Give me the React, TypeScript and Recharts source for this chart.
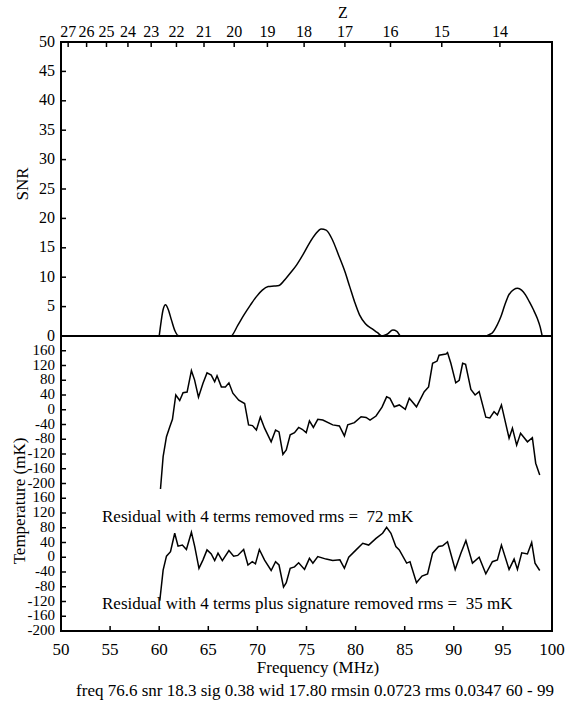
import React from "react";
import { LineChart, Line, XAxis, YAxis, ReferenceArea } from "recharts";

// SNR curve (top panel)
const snrFreq = [60.0, 60.2, 60.4, 60.65, 60.9, 61.25, 61.6, 61.9, 62.2, 67.3, 68.0, 68.6, 69.3, 69.9, 70.5, 71.1, 71.7, 72.2, 72.9, 73.5, 74.0, 74.7, 75.3, 75.9, 76.5, 77.0, 77.6, 78.3, 78.9, 79.4, 79.9, 80.4, 81.0, 81.7, 82.2, 82.7, 83.2, 83.8, 84.2, 84.6, 93.0, 93.9, 94.4, 94.8, 95.2, 95.6, 96.1, 96.5, 96.9, 97.3, 97.7, 98.1, 98.5, 98.8, 99.0];
const snrValue = [0, 2.5, 4.5, 5.3, 4.6, 2.7, 0.9, 0.1, 0, 0, 1.8, 3.5, 5.3, 6.7, 7.8, 8.4, 8.5, 8.6, 9.8, 11.0, 12.1, 14.0, 15.8, 17.3, 18.2, 18.0, 16.5, 13.6, 11.0, 8.4, 5.8, 3.6, 2.1, 1.2, 0.6, 0, 0.3, 1.0, 0.8, 0, 0, 0.5, 1.8, 3.3, 5.3, 7.0, 7.9, 8.1, 7.8, 7.0, 5.8, 4.5, 3.0, 1.5, 0];

// residual with 4 terms removed (mK)
const res4Freq = [60.13, 60.4, 60.74, 61.08, 61.35, 61.69, 62.09, 62.43, 62.84, 63.28, 63.6, 64.0, 64.46, 64.87, 65.3, 65.65, 65.89, 66.33, 66.74, 67.1, 67.5, 68.1, 68.7, 69.1, 69.5, 69.9, 70.3, 70.73, 71.4, 71.85, 72.2, 72.6, 72.94, 73.34, 73.78, 74.2, 74.56, 74.97, 75.3, 75.7, 76.15, 76.66, 77.67, 78.35, 78.86, 79.2, 79.88, 80.56, 81.07, 81.47, 82.08, 82.69, 83.16, 83.5, 83.94, 84.45, 85.06, 85.47, 86.2, 86.99, 87.43, 87.84, 88.3, 88.5, 89.2, 89.36, 89.7, 90.2, 90.55, 90.9, 91.2, 91.74, 92.17, 92.58, 93.26, 93.67, 94.1, 94.44, 94.85, 95.63, 95.97, 96.4, 96.8, 97.5, 98.0, 98.34, 98.75];
const res4Mk = [-215, -127, -73, -46, -26, 40, 25, 46, 48, 106, 81, 34, 72, 100, 94, 76, 92, 62, 62, 73, 45, 26, 17, -41, -43, -55, -20, -50, -87, -55, -60, -121, -109, -68, -62, -48, -53, -62, -30, -48, -26, -28, -41, -44, -71, -41, -35, -19, -21, -28, -17, 7, 35, 31, 8, 13, 1, 31, 8, 49, 62, 126, 132, 148, 151, 155, 126, 73, 80, 126, 123, 55, 40, 49, -20, -22, -5, -14, 13, -77, -50, -96, -64, -87, -76, -145, -177];

// residual with 4 terms plus signature removed (mK)
const resSigFreq = [60.06, 60.4, 60.74, 61.15, 61.58, 61.92, 62.36, 62.77, 63.28, 63.62, 64.05, 64.46, 64.87, 65.3, 65.65, 65.99, 66.43, 67.1, 67.58, 68.0, 68.6, 69.04, 69.48, 69.8, 70.2, 70.73, 71.4, 71.85, 72.2, 72.66, 72.94, 73.34, 73.78, 74.2, 74.8, 75.3, 75.65, 76.15, 77.0, 77.67, 78.4, 78.86, 79.3, 80.05, 80.73, 81.33, 82.08, 82.75, 83.16, 83.6, 84.1, 84.45, 85.2, 85.54, 86.2, 86.76, 87.33, 87.84, 88.45, 88.86, 89.36, 90.14, 90.72, 91.23, 91.9, 92.58, 93.26, 93.93, 94.44, 94.85, 95.63, 96.14, 96.48, 96.92, 97.5, 97.93, 98.27, 98.75];
const resSigMk = [-118, -35, 3, 15, 65, 30, 33, 21, 68, 29, -30, -7, 20, 9, -9, 11, -9, 18, 3, 5, 21, -21, -12, -18, 21, -8, -36, -12, -21, -81, -69, -30, -26, -15, -33, -3, -16, 2, -5, -9, -7, -30, 0, 20, 38, 33, 51, 65, 81, 65, 29, 20, -16, -12, -69, -51, -45, 11, 29, 31, 42, -33, 11, 45, -16, 0, -45, -12, -7, 33, -33, -5, -33, 12, 9, 40, -16, -36];

const snrTicks = [0, 5, 10, 15, 20, 25, 30, 35, 40, 45, 50];
const freqTicks = [50, 55, 60, 65, 70, 75, 80, 85, 90, 95, 100];
const zLabels = [27, 26, 25, 24, 23, 22, 21, 20, 19, 18, 17, 16, 15, 14];
// stacked temperature axis: lower block is the true value, upper block is shifted by OFFSET
const tempTicks = [-200, -160, -120, -80, -40, 0, 40, 80, 120, 160, 200, 240, 280, 320, 360, 400, 440, 480, 520, 560];
const OFFSET = 400;

const HI_MHZ = 1420.4;
const zTickFreqs = zLabels.map((z) => HI_MHZ / (1 + z));

const snrData = snrFreq.map((f, i) => ({ f, v: snrValue[i] }));
const res4Data = res4Freq.map((f, i) => ({ f, v: res4Mk[i] + OFFSET }));
const resSigData = resSigFreq.map((f, i) => ({ f, v: resSigMk[i] }));

const FONT = "Liberation Serif, Times New Roman, DejaVu Serif, serif";
const txt = { fontFamily: FONT };
const M = 6;

const LeftTick = (props: any) => {
  const { x, y, payload, fs, fmt } = props;
  const label = fmt ? fmt(payload.value) : payload.value;
  return (
    <g>
      <line x1={x + M} x2={x + M + 5} y1={y} y2={y} stroke="#000" strokeWidth={1.5} />
      <text x={x} y={y - 1} textAnchor="end" dominantBaseline="central" style={txt} fontSize={fs} fill="#000">
        {label}
      </text>
    </g>
  );
};

const TopTick = (props: any) => {
  const { x, y, payload } = props;
  const idx = zTickFreqs.findIndex((f) => Math.abs(f - payload.value) < 1e-6);
  return (
    <g>
      <line x1={x} x2={x} y1={y + M} y2={y + M + 5} stroke="#000" strokeWidth={1.5} />
      <text x={x} y={y - 5} textAnchor="middle" dominantBaseline="central" style={txt} fontSize={16} fill="#000">
        {idx >= 0 ? zLabels[idx] : ""}
      </text>
    </g>
  );
};

const BottomTick = (props: any) => {
  const { x, y, payload } = props;
  return (
    <g>
      <line x1={x} x2={x} y1={y - M} y2={y - M - 5} stroke="#000" strokeWidth={1.5} />
      <text x={x} y={y + 12} textAnchor="middle" dominantBaseline="central" style={txt} fontSize={17} fill="#000">
        {payload.value}
      </text>
    </g>
  );
};

const tempFmt = (v: number) => (v >= 200 ? v - OFFSET : v);

export default function App() {
  return (
    <div style={{ position: "absolute", left: 0, top: 0, width: 568, height: 705, background: "#fff", fontFamily: FONT }}>
      <div style={{ position: "absolute", left: 0, top: 0 }}>
        <LineChart width={568} height={350} margin={{ top: 12, right: 16, bottom: 14, left: 0 }}>
          <XAxis
            dataKey="f"
            type="number"
            orientation="top"
            domain={[50, 100]}
            ticks={zTickFreqs}
            height={30}
            axisLine={false}
            tickLine={false}
            tickSize={0}
            tickMargin={M}
            interval={0}
            tick={<TopTick />}
            allowDataOverflow
          />
          <YAxis
            type="number"
            domain={[0, 50]}
            ticks={snrTicks}
            width={61}
            axisLine={false}
            tickLine={false}
            tickSize={0}
            tickMargin={M}
            interval={0}
            tick={<LeftTick fs={16} />}
            allowDataOverflow
          />
          <ReferenceArea x1={50} x2={100} y1={0} y2={50} fill="none" stroke="#000" strokeWidth={2} />
          <Line data={snrData} dataKey="v" type="monotone" stroke="#000" strokeWidth={1.5} dot={false} isAnimationActive={false} />
        </LineChart>
      </div>
      <div style={{ position: "absolute", left: 0, top: 336 }}>
        <LineChart width={568} height={325} margin={{ top: 0, right: 16, bottom: 0, left: 0 }}>
          <XAxis
            dataKey="f"
            type="number"
            domain={[50, 100]}
            ticks={freqTicks}
            height={30}
            axisLine={false}
            tickLine={false}
            tickSize={0}
            tickMargin={M}
            interval={0}
            tick={<BottomTick />}
            allowDataOverflow
          />
          <YAxis
            type="number"
            domain={[-200, 600]}
            ticks={tempTicks}
            width={61}
            axisLine={false}
            tickLine={false}
            tickSize={0}
            tickMargin={M}
            interval={0}
            tick={<LeftTick fs={15} fmt={tempFmt} />}
            allowDataOverflow
          />
          <ReferenceArea x1={50} x2={100} y1={-200} y2={600} fill="none" stroke="#000" strokeWidth={2} />
          <Line data={res4Data} dataKey="v" type="linear" stroke="#000" strokeWidth={1.5} dot={false} isAnimationActive={false} />
          <Line data={resSigData} dataKey="v" type="linear" stroke="#000" strokeWidth={1.5} dot={false} isAnimationActive={false} />
        </LineChart>
      </div>
      <svg width={568} height={705} style={{ position: "absolute", left: 0, top: 0, pointerEvents: "none", fontFamily: FONT }} fill="#000">
        <text x={343} y={12} textAnchor="middle" dominantBaseline="central" fontSize={16}>Z</text>
        <text x={22} y={184} textAnchor="middle" dominantBaseline="central" fontSize={17} transform="rotate(-90 22 184)">SNR</text>
        <text x={19} y={501} textAnchor="middle" dominantBaseline="central" fontSize={17} transform="rotate(-90 19 501)">Temperature (mK)</text>
        <text x={102} y={516} dominantBaseline="central" fontSize={17} style={{ whiteSpace: "pre" }}>Residual with 4 terms removed rms =  72 mK</text>
        <text x={102} y={603} dominantBaseline="central" fontSize={17} style={{ whiteSpace: "pre" }}>Residual with 4 terms plus signature removed rms =  35 mK</text>
        <text x={318} y={667} textAnchor="middle" dominantBaseline="central" fontSize={17}>Frequency (MHz)</text>
        <text x={315} y={690} textAnchor="middle" dominantBaseline="central" fontSize={17}>freq 76.6 snr 18.3 sig 0.38 wid 17.80 rmsin 0.0723 rms 0.0347 60 - 99</text>
      </svg>
    </div>
  );
}
